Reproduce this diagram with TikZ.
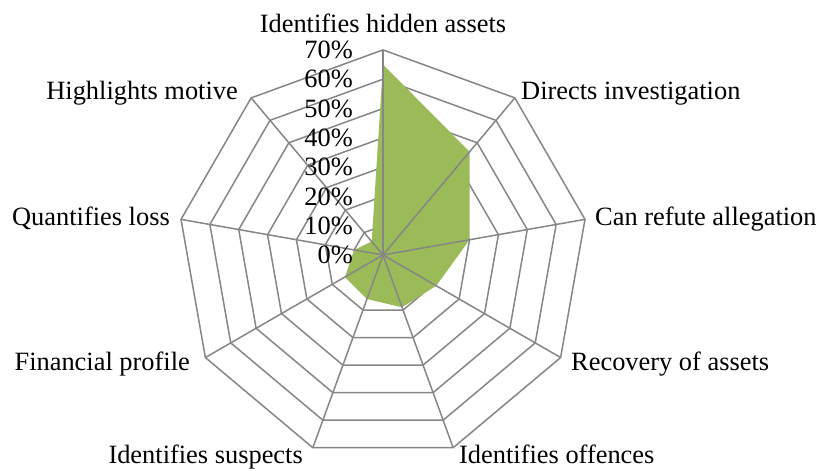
\documentclass[tikz,border=0pt]{standalone}
\usepackage{fontspec}
\setmainfont{Liberation Serif}
\definecolor{gridgray}{RGB}{134,134,134}
\definecolor{radargreen}{RGB}{155,187,89}
\tikzset{
  grid line/.style={draw=gridgray, line width=1.5pt},
  cat label/.style={inner sep=0pt, font=\fontsize{26.4}{30}\selectfont},
}
\begin{document}
\begin{tikzpicture}[x=1pt,y=1pt]
\useasboundingbox (-383,-216) rectangle (436,255);
\foreach \r [evaluate=\r as \rr using 29.3*\r] in {1,...,7}
  \draw[grid line] (90:\rr) \foreach \a in {50,10,...,-230} { -- (\a:\rr) } -- cycle;
\fill[radargreen] (90:65*2.93) -- (50:46*2.93) -- (10:30*2.93) -- (-30:21*2.93)
  -- (-70:19*2.93) -- (-110:16*2.93) -- (-150:15*2.93) -- (-190:10*2.93)
  -- (-230:6*2.93) -- cycle;
\foreach \a in {90,50,...,-230}
  \draw[grid line] (0,0) -- (\a:205);
\foreach \v/\t in {0/0\%,1/10\%,2/20\%,3/30\%,4/40\%,5/50\%,6/60\%,7/70\%}
  \node[cat label, anchor=east] (tick\v) at (-30,29.3*\v) {\t};
\node[cat label, anchor=base] (hidden) at (0,222) {Identifies hidden assets};
\node[cat label, anchor=base west] (directs) at (138,155.7) {Directs investigation};
\node[cat label, anchor=base west] (refute) at (212,29.3) {Can refute allegation};
\node[cat label, anchor=base west] (recovery) at (188,-115) {Recovery of assets};
\node[cat label, anchor=base west] (offences) at (76,-208) {Identifies offences};
\node[cat label, anchor=base east] (suspects) at (-80,-208) {Identifies suspects};
\node[cat label, anchor=base east] (financial) at (-193,-115) {Financial profile};
\node[cat label, anchor=base east] (loss) at (-213,29.3) {Quantifies loss};
\node[cat label, anchor=base east] (motive) at (-145,155.7) {Highlights motive};
\end{tikzpicture}
\end{document}
